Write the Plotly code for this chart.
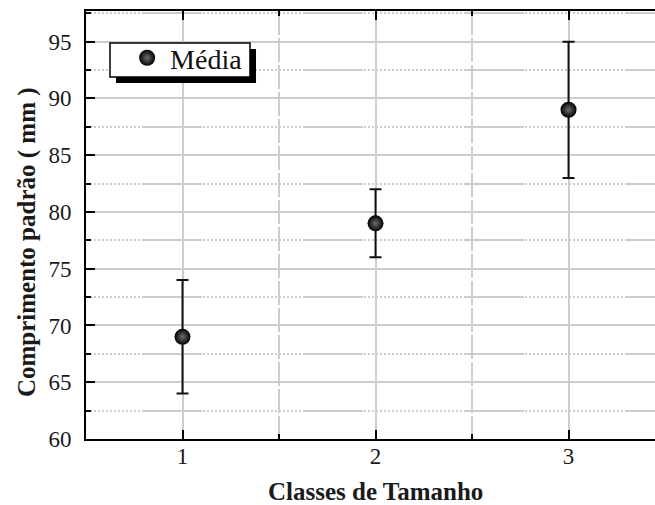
import plotly.graph_objects as go

# Mean standard length per size class, with the spread shown as error bars
classes = [1, 2, 3]
mean_length = [69, 79, 89]
spread = [5, 3, 6]
series_name = "Média"

x_title = "Classes de Tamanho"
y_title = "Comprimento padrão ( mm )"

serif = "Liberation Serif"
grid_col = "#cdcdcd"


def dots(length, on=2, off=2):
    """Dash-array fragment of small dots covering `length` pixels."""
    n = length // (on + off)
    return [f"{on}px", f"{off}px"] * n


# minor horizontal grid: long runs of dots broken by short solid stretches
minor_y_dash = ",".join(dots(56) + ["60px", "1px"] + dots(44))

fig = go.Figure()
fig.add_trace(go.Scatter(
    x=classes, y=mean_length, mode="markers", name=series_name,
    marker=dict(size=16, color="#000000", symbol="circle",
                gradient=dict(type="radial", color="#6e6e6e"),
                line=dict(width=0)),
    error_y=dict(type="data", array=spread, visible=True,
                 color="#111111", thickness=2, width=6),
))

fig.update_layout(
    width=655, height=505,
    margin=dict(l=86, r=0, t=11, b=66),
    paper_bgcolor="white", plot_bgcolor="white",
    font=dict(family=serif, color="#1a1a1a", size=22),
    showlegend=True,
    legend=dict(x=0.067, y=0.89, xanchor="left", yanchor="middle",
                bgcolor="rgba(0,0,0,0)", borderwidth=0,
                font=dict(family=serif, size=28, color="#111111"),
                itemwidth=36),
    xaxis=dict(
        range=[0.5, 3.448], tickvals=classes,
        showline=True, linecolor="#000000", linewidth=2, mirror="ticks",
        ticks="inside", ticklen=9, tickwidth=2, tickcolor="#000000",
        showgrid=True, gridcolor=grid_col, gridwidth=2,
        minor=dict(dtick=0.5, tick0=0.5, ticks="inside", ticklen=5,
                   tickwidth=2, tickcolor="#000000", showgrid=True,
                   gridcolor=grid_col, gridwidth=2, griddash="24px,3px"),
        zeroline=False,
        tickfont=dict(size=23, family=serif),
        ticklabelstandoff=-5,
    ),
    yaxis=dict(
        range=[60, 97.7], dtick=5, tick0=60,
        showline=True, linecolor="#000000", linewidth=2,
        ticks="inside", ticklen=9, tickwidth=2, tickcolor="#000000",
        showgrid=True, gridcolor=grid_col, gridwidth=2,
        minor=dict(dtick=2.5, tick0=62.5, ticks="inside", ticklen=5,
                   tickwidth=2, tickcolor="#000000", showgrid=True,
                   gridcolor=grid_col, gridwidth=1.5, griddash=minor_y_dash),
        zeroline=False,
        tickfont=dict(size=23, family=serif),
        ticklabelstandoff=8,
    ),
    # legend frame with its drop shadow
    shapes=[
        dict(type="rect", xref="paper", yref="paper", layer="above",
             x0=0.0527, x1=0.2988, y0=0.8318, y1=0.9112,
             fillcolor="#000000", line=dict(width=0)),
        dict(type="rect", xref="paper", yref="paper", layer="above",
             x0=0.0422, x1=0.2882, y0=0.8458, y1=0.9252,
             fillcolor="white", line=dict(color="#000000", width=1.5)),
    ],
    annotations=[
        dict(text="<b>" + x_title + "</b>", xref="x", yref="paper",
             x=2, y=-0.122, xanchor="center", yanchor="middle", showarrow=False,
             font=dict(size=25, family=serif, color="#1a1a1a")),
        dict(text="<b>" + y_title + "</b>", xref="paper", yref="paper",
             x=-0.1037, y=0.46, xanchor="center", yanchor="middle", showarrow=False,
             textangle=-90, font=dict(size=25, family=serif, color="#1a1a1a")),
    ],
)

fig.write_html("out.html")
